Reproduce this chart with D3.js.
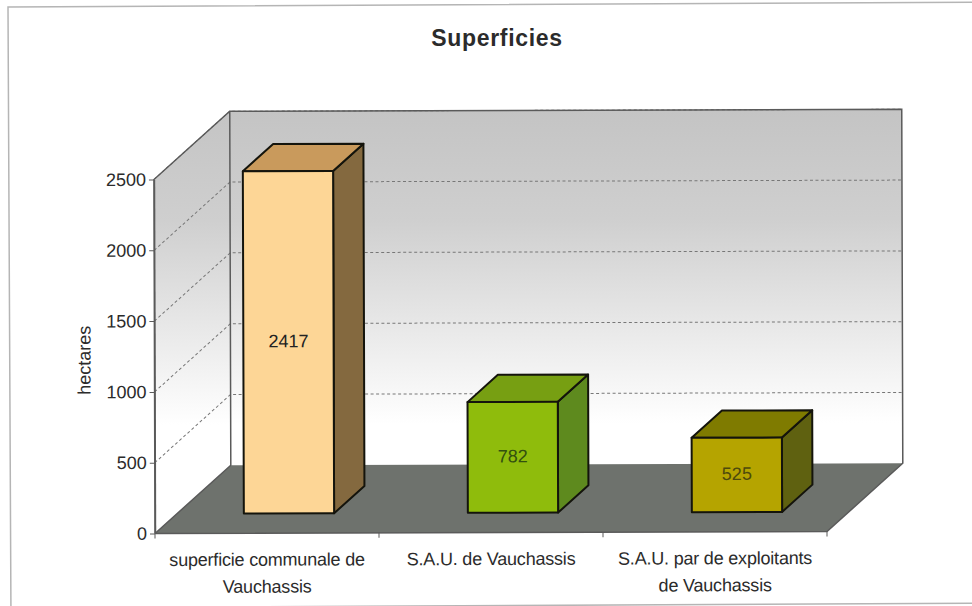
<!DOCTYPE html>
<html>
<head>
<meta charset="utf-8">
<script src="https://cdn.jsdelivr.net/npm/d3@7"></script>
<style>
  html, body { margin: 0; padding: 0; background: #fff; }
  svg { display: block; }
  text { font-family: "Liberation Sans", Arial, sans-serif; fill: #2b2b2b; }
</style>
</head>
<body>
<script>
'use strict';

// values
const categories = ["superficie communale de|Vauchassis", "S.A.U. de Vauchassis", "S.A.U. par de exploitants|de Vauchassis"];
const values = [2417, 782, 525];
const yTicks = [0, 500, 1000, 1500, 2000, 2500];
const frontColors = ["#fdd696", "#8fbc0c", "#b5a400"];
const topColors = ["#c99a5c", "#779f12", "#7f7b00"];
const sideColors = ["#84693f", "#5e8a1e", "#5f6110"];
const labelColors = ["#222222", "#33500f", "#4d4a0c"];

const m = { width: 972, height: 606 };

// depth of the 3d box, as an offset of the back plane from the front plane
const depth = { x: 76, y: -68 };
const barDepth = { front: 0.29, back: 0.69 };

const svg = d3.select('body')
  .append('svg')
  .attr('width', m.width)
  .attr('height', m.height);

// outer frame of the chart, tilted a little like the scan
svg.append('rect')
  .attr('x', 8).attr('y', 7)
  .attr('width', 1000).attr('height', 601)
  .attr('transform', 'rotate(-0.28 8 7)')
  .attr('fill', 'none')
  .attr('stroke', '#b5b5b5')
  .attr('stroke-width', 1.5);

svg.append('text')
  .attr('x', 497).attr('y', 46)
  .attr('text-anchor', 'middle')
  .style('font-size', '23px')
  .style('font-weight', 'bold')
  .style('letter-spacing', '0.7px')
  .text('Superficies');

// the scan is very slightly rotated
const g = svg.append('g').attr('transform', 'rotate(-0.17 155 533)');

const xScale = d3.scaleBand()
  .domain(categories)
  .range([155, 827])
  .paddingInner(0.597)
  .paddingOuter(0.2985);

const yScale = d3.scaleLinear()
  .domain([0, 2500])
  .range([533.5, 179.5]);

// project a front plane point to a depth between 0 and 1
const px = (x, d) => x + depth.x * d;
const py = (y, d) => y + depth.y * d;
const poly = (pts) => pts.map((p) => p.join(',')).join(' ');

const defs = svg.append('defs');
const wallGrad = defs.append('linearGradient')
  .attr('id', 'wallGrad')
  .attr('gradientUnits', 'userSpaceOnUse')
  .attr('x1', 0).attr('y1', 111).attr('x2', 0).attr('y2', 425);
wallGrad.append('stop').attr('offset', 0).attr('stop-color', '#c4c4c4');
wallGrad.append('stop').attr('offset', 0.35).attr('stop-color', '#cfcfcf');
wallGrad.append('stop').attr('offset', 1).attr('stop-color', '#ffffff');

const x0 = xScale.range()[0], x1 = xScale.range()[1];
const yBase = yScale(0), yTop = yScale(2500);

// side wall
g.append('polygon')
  .attr('points', poly([[x0, yBase], [x0, yTop], [px(x0, 1), py(yTop, 1)], [px(x0, 1), py(yBase, 1)]]))
  .attr('fill', 'url(#wallGrad)');

// back wall
g.append('rect')
  .attr('x', px(x0, 1)).attr('y', py(yTop, 1))
  .attr('width', x1 - x0).attr('height', yBase - yTop)
  .attr('fill', 'url(#wallGrad)');

// floor
g.append('polygon')
  .attr('points', poly([[x0, yBase], [x1, yBase], [px(x1, 1), py(yBase, 1)], [px(x0, 1), py(yBase, 1)]]))
  .attr('fill', '#6e726d');

// dashed gridlines on both walls
const grid = yTicks.filter((t) => t > 0);
g.selectAll('.grid')
  .data(grid)
  .enter()
  .append('path')
  .attr('class', 'grid')
  .attr('d', (t) => {
    const y = yScale(t);
    return 'M' + x0 + ',' + y + 'L' + px(x0, 1) + ',' + py(y, 1) + 'H' + px(x1, 1);
  })
  .attr('fill', 'none')
  .attr('stroke', '#777')
  .attr('stroke-width', 1)
  .attr('stroke-dasharray', '3,2.5');

// wall outlines
g.append('path')
  .attr('d', 'M' + x0 + ',' + yBase + 'V' + yTop + 'L' + px(x0, 1) + ',' + py(yTop, 1) + 'H' + px(x1, 1) + 'V' + py(yBase, 1) + 'L' + x1 + ',' + yBase + 'H' + x0)
  .attr('fill', 'none')
  .attr('stroke', '#5a5a5a')
  .attr('stroke-width', 1.5);
g.append('path')
  .attr('d', 'M' + px(x0, 1) + ',' + py(yTop, 1) + 'V' + py(yBase, 1) + 'L' + x0 + ',' + yBase)
  .attr('fill', 'none')
  .attr('stroke', '#5a5a5a')
  .attr('stroke-width', 1.5);

// y axis
const yAxis = d3.axisLeft(yScale)
  .tickValues(yTicks)
  .tickFormat(d3.format('d'))
  .tickSize(5)
  .tickPadding(3)
  .tickSizeOuter(0);
const yAxisG = g.append('g')
  .attr('transform', 'translate(' + x0 + ',0)')
  .call(yAxis);
yAxisG.select('.domain').attr('stroke', '#5a5a5a').attr('stroke-width', 1.5);
yAxisG.selectAll('.tick line').attr('stroke', '#5a5a5a');
yAxisG.selectAll('.tick text')
  .style('font-size', '18px')
  .style('font-family', '"Liberation Sans", Arial, sans-serif')
  .style('fill', '#2b2b2b');

// x axis, ticks sit between the categories
const xEdges = d3.range(categories.length + 1).map((i) => x0 + i * xScale.step());
g.selectAll('.xtick')
  .data(xEdges)
  .enter()
  .append('line')
  .attr('class', 'xtick')
  .attr('x1', (d) => d).attr('x2', (d) => d)
  .attr('y1', yBase).attr('y2', yBase + 5)
  .attr('stroke', '#5a5a5a');

const xLabels = g.selectAll('.xlabel')
  .data(categories)
  .enter()
  .append('text')
  .attr('class', 'xlabel')
  .attr('text-anchor', 'middle')
  .style('font-size', '18px')
  .style('letter-spacing', '-0.2px');
xLabels.selectAll('tspan')
  .data((d) => d.split('|').map((line, i) => ({ line: line, i: i, cat: d })))
  .enter()
  .append('tspan')
  .attr('x', (d) => xScale(d.cat) + xScale.bandwidth() / 2)
  .attr('y', (d) => 566 + d.i * 27)
  .text((d) => d.line);

g.append('text')
  .attr('transform', 'translate(91,360)rotate(-90)')
  .attr('text-anchor', 'middle')
  .style('font-size', '18px')
  .text('hectares');

// 3d bars
const bars = g.selectAll('.bar')
  .data(values)
  .enter()
  .append('g')
  .attr('class', 'bar');

function barPoints(v, i) {
  const left = px(xScale(categories[i]), barDepth.front);
  const right = left + xScale.bandwidth();
  const top = py(yScale(v), barDepth.front);
  const bottom = py(yScale(0), barDepth.front);
  const dx = depth.x * (barDepth.back - barDepth.front);
  const dy = depth.y * (barDepth.back - barDepth.front);
  return { left, right, top, bottom, dx, dy };
}

bars.append('polygon')
  .attr('points', (v, i) => {
    const b = barPoints(v, i);
    return poly([[b.right, b.top], [b.right + b.dx, b.top + b.dy], [b.right + b.dx, b.bottom + b.dy], [b.right, b.bottom]]);
  })
  .attr('fill', (v, i) => sideColors[i]);

bars.append('polygon')
  .attr('points', (v, i) => {
    const b = barPoints(v, i);
    return poly([[b.left, b.top], [b.left + b.dx, b.top + b.dy], [b.right + b.dx, b.top + b.dy], [b.right, b.top]]);
  })
  .attr('fill', (v, i) => topColors[i]);

bars.append('rect')
  .attr('x', (v, i) => barPoints(v, i).left)
  .attr('y', (v, i) => barPoints(v, i).top)
  .attr('width', xScale.bandwidth())
  .attr('height', (v, i) => barPoints(v, i).bottom - barPoints(v, i).top)
  .attr('fill', (v, i) => frontColors[i]);

bars.selectAll('polygon, rect')
  .attr('stroke', '#14140c')
  .attr('stroke-width', 2)
  .attr('stroke-linejoin', 'round');

// value labels in the middle of each front face
bars.append('text')
  .attr('x', (v, i) => (barPoints(v, i).left + barPoints(v, i).right) / 2)
  .attr('y', (v, i) => (barPoints(v, i).top + barPoints(v, i).bottom) / 2 + 5)
  .attr('text-anchor', 'middle')
  .style('font-size', '18px')
  .style('fill', (v, i) => labelColors[i])
  .text((v) => v);
</script>
</body>
</html>
